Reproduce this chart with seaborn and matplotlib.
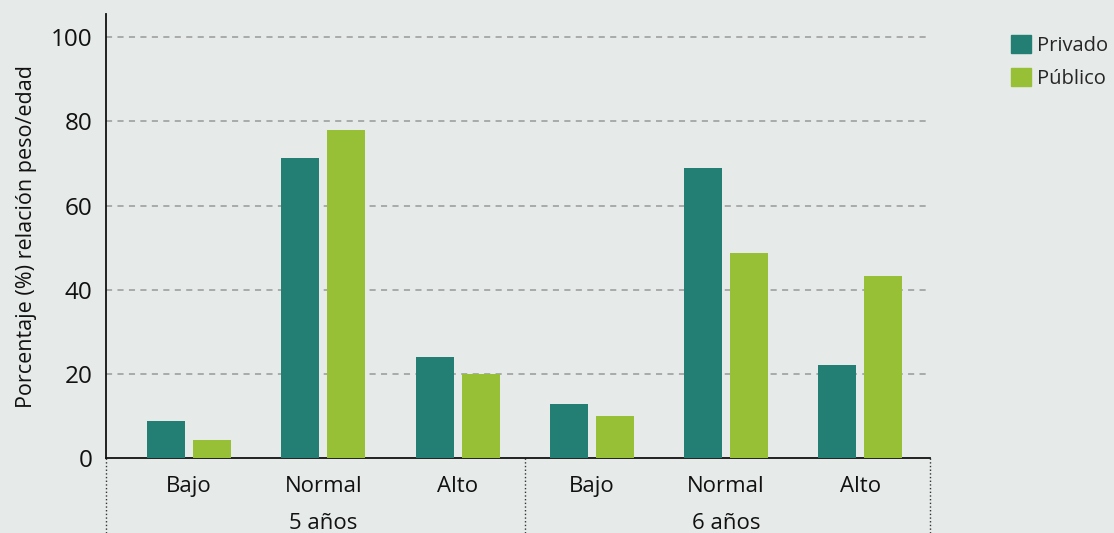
import matplotlib
matplotlib.use("Agg")
import matplotlib.pyplot as plt
import matplotlib.transforms as mtransforms
import pandas as pd
import seaborn as sns

# datos
edades = ["5 años", "6 años"]
niveles = ["Bajo", "Normal", "Alto"]
privado = [8.8, 71.3, 24.0, 12.8, 68.9, 22.1]
publico = [4.3, 78.0, 20.0, 10.0, 48.7, 43.2]

FONDO = "#E6EAE8"
COLORES = {"Privado": "#237F73", "Público": "#98C037"}

claves = [f"{e}|{n}" for e in edades for n in niveles]
df = pd.DataFrame({
    "clave": claves * 2,
    "valor": privado + publico,
    "sector": ["Privado"] * len(claves) + ["Público"] * len(claves),
})

sns.set_theme(style="white")
plt.rcParams["font.family"] = ["Open Sans", "DejaVu Sans"]

fig = plt.figure(figsize=(11.14, 5.33), dpi=100, facecolor=FONDO)
ax = fig.add_axes([0.0952, 0.1407, 0.7396, 0.833])
ax.set_facecolor(FONDO)

sns.barplot(data=df, x="clave", y="valor", hue="sector", order=claves,
            palette=COLORES, width=0.687, gap=0.175, saturation=1,
            errorbar=None, linewidth=0, ax=ax, zorder=3)

ax.set_ylim(0, 105.5)
ax.set_xlim(-0.62, 5.52)
ax.set_yticks([0, 20, 40, 60, 80, 100])
for y in [20, 40, 60, 80, 100]:
    ax.axhline(y, color="#999999", linestyle=(0, (4, 3.5)), linewidth=1.1, zorder=1)

ax.set_xticks(range(len(claves)))
ax.set_xticklabels([c.split("|")[1] for c in claves], fontsize=16)
ax.tick_params(axis="x", length=0, pad=13, colors="#111111")
ax.tick_params(axis="y", length=0, pad=10, labelsize=17.5, colors="#111111")
ax.set_xlabel("")
ax.set_ylabel("Porcentaje (%) relación peso/edad", fontsize=15.5, labelpad=10, color="#111111")

for lado in ["top", "right"]:
    ax.spines[lado].set_visible(False)
for lado in ["left", "bottom"]:
    ax.spines[lado].set_color("#111111")
    ax.spines[lado].set_linewidth(1.3)

# separadores punteados y etiquetas de grupo
trans = mtransforms.blended_transform_factory(ax.transData, ax.transAxes)
for xs in [-0.62, 2.5, 5.52]:
    ax.plot([xs, xs], [0, -0.17], transform=trans, clip_on=False,
            color="#333333", linestyle=":", linewidth=1)
for i, e in enumerate(edades):
    ax.text(1 + 3 * i, -0.148, e, transform=trans, ha="center", va="center",
            fontsize=16, color="#111111")

ax.legend_.remove()
handles = [plt.Rectangle((0, 0), 1, 1, color=COLORES[s]) for s in COLORES]
fig.legend(handles, list(COLORES), loc="upper left", bbox_to_anchor=(0.9003, 0.949),
           frameon=False, fontsize=14.5, handlelength=1.0, handleheight=1.0,
           handletextpad=0.3, labelspacing=0.6, borderaxespad=0)

fig.savefig("out.png", dpi=100, facecolor=FONDO)
